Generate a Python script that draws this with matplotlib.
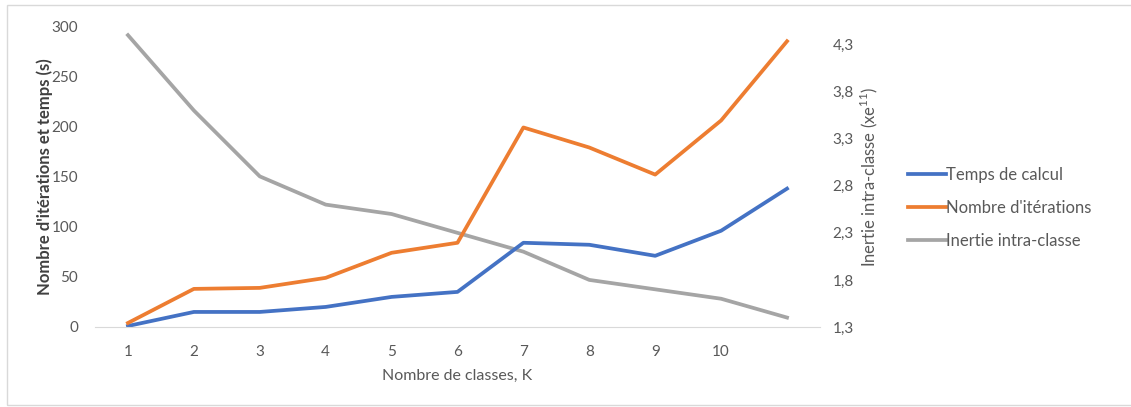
import matplotlib
matplotlib.use("Agg")
import matplotlib.pyplot as plt
from matplotlib.patches import Rectangle

plt.rcParams['font.family'] = ['Lato', 'DejaVu Sans']
plt.rcParams['mathtext.fontset'] = 'custom'
plt.rcParams['mathtext.rm'] = 'Lato'

k_values = [1, 2, 3, 4, 5, 6, 7, 8, 9, 10, 11]
temps_calcul = [1, 15, 15, 20, 30, 35, 84, 82, 71, 96, 138]
nb_iterations = [4, 38, 39, 49, 74, 84, 199, 179, 152, 206, 285]
inertie = [4.4, 3.6, 2.9, 2.6, 2.5, 2.3, 2.1, 1.8, 1.7, 1.6, 1.4]

x_ticks = [1, 2, 3, 4, 5, 6, 7, 8, 9, 10]
left_ticks = [0, 50, 100, 150, 200, 250, 300]
right_ticks = [1.3, 1.8, 2.3, 2.8, 3.3, 3.8, 4.3]
right_labels = ['1,3', '1,8', '2,3', '2,8', '3,3', '3,8', '4,3']

blue = '#4472C4'
orange = '#ED7D31'
grey = '#A5A5A5'
txt = '#595959'

fig = plt.figure(figsize=(11.31, 4.07), dpi=100)
ax = fig.add_axes([0.084, 0.1966, 0.641, 0.739])
ax2 = ax.twinx()

l1, = ax.plot(k_values, temps_calcul, color=blue, lw=2.7, label='Temps de calcul')
l2, = ax.plot(k_values, nb_iterations, color=orange, lw=2.7, label="Nombre d'itérations")
l3, = ax2.plot(k_values, inertie, color=grey, lw=2.7, label='Inertie intra-classe')
ax.set_zorder(ax2.get_zorder() + 1)
ax.patch.set_visible(False)

ax.set_xlim(0.5, 11.5)
ax.set_ylim(0, 300)
ax2.set_ylim(1.3, 4.495)
ax.set_xticks(x_ticks)
ax.set_yticks(left_ticks)
ax2.set_yticks(right_ticks)
ax2.set_yticklabels(right_labels)

for a in (ax, ax2):
    for s in a.spines.values():
        s.set_visible(False)
    a.tick_params(length=0, labelsize=11, colors=txt)
ax.spines['bottom'].set_visible(True)
ax.spines['bottom'].set_color('#D9D9D9')
ax.tick_params(axis='x', pad=13)
ax.tick_params(axis='y', pad=12)
ax2.tick_params(axis='y', pad=9)

ax.set_xlabel('Nombre de classes, K', fontsize=11.5, color=txt, labelpad=7)
ax.set_ylabel("Nombre d'itérations et temps (s)", fontsize=12, color='#404040',
              fontweight='bold', labelpad=-1)
ax2.set_ylabel(r'Inertie intra-classe (xe$^{\mathregular{11}}$)', fontsize=12,
               color=txt, labelpad=3)

leg = fig.legend(handles=[l1, l2, l3], loc='center left', bbox_to_anchor=(0.797, 0.489),
                 frameon=False, fontsize=12, handlelength=2.3, handletextpad=0.0,
                 labelspacing=1.0, borderaxespad=0)
for t in leg.get_texts():
    t.set_color(txt)

fig.patches.append(Rectangle((0.006, 0.005), 1.1, 0.983, transform=fig.transFigure,
                             fill=False, edgecolor='#D9D9D9', lw=1))

fig.savefig('out.png', dpi=100)
